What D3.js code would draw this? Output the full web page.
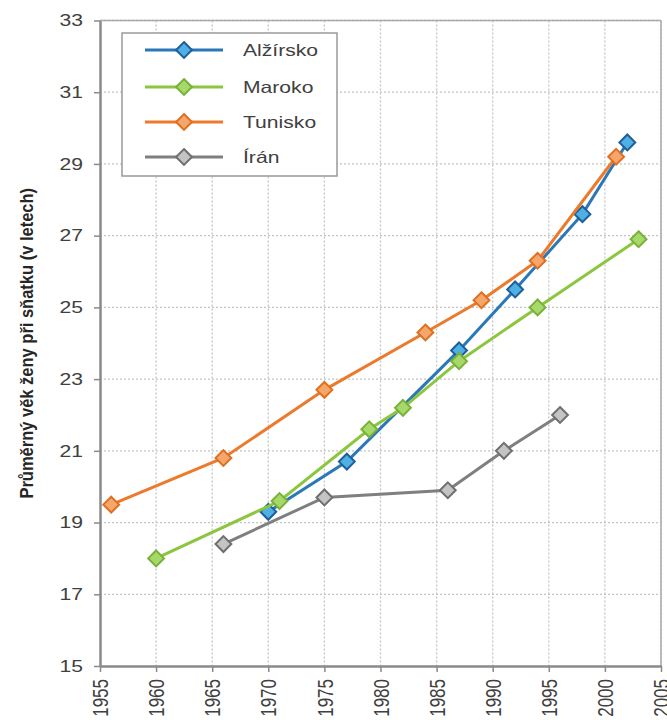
<!DOCTYPE html>
<html><head><meta charset="utf-8">
<script src="https://cdn.jsdelivr.net/npm/d3@7/dist/d3.min.js"></script>
<style>
html,body{margin:0;padding:0;background:#fff;}
svg{display:block;font-family:"Liberation Sans",Arial,sans-serif;}
</style></head>
<body>
<svg id="chart" width="667" height="720"></svg>
<script>
const seriesNames = ["Alžírsko", "Maroko", "Tunisko", "Írán"];
const algeriaYears = [1970, 1977, 1987, 1992, 1998, 2002];
const algeriaValues = [19.3, 20.7, 23.8, 25.5, 27.6, 29.6];
const moroccoYears = [1960, 1971, 1979, 1982, 1987, 1994, 2003];
const moroccoValues = [18.0, 19.6, 21.6, 22.2, 23.5, 25.0, 26.9];
const tunisiaYears = [1956, 1966, 1975, 1984, 1989, 1994, 2001];
const tunisiaValues = [19.5, 20.8, 22.7, 24.3, 25.2, 26.3, 29.2];
const iranYears = [1966, 1975, 1986, 1991, 1996];
const iranValues = [18.4, 19.7, 19.9, 21.0, 22.0];
const xTicks = [1955, 1960, 1965, 1970, 1975, 1980, 1985, 1990, 1995, 2000, 2005];
const yTicks = [15, 17, 19, 21, 23, 25, 27, 29, 31, 33];
const yTitle = "Průměrný věk ženy při sňatku (v letech)";

const styles = [
  {line:"#2a78b8", fill:"#4fb0e6", stroke:"#1f5f99"},
  {line:"#8cc63f", fill:"#a6d96a", stroke:"#79b13a"},
  {line:"#ec7a2c", fill:"#f5a66a", stroke:"#e07020"},
  {line:"#7f7f7f", fill:"#c4c4c4", stroke:"#6f6f6f"}
];
const data = [
  algeriaYears.map((y,i)=>({x:y, v:algeriaValues[i]})),
  moroccoYears.map((y,i)=>({x:y, v:moroccoValues[i]})),
  tunisiaYears.map((y,i)=>({x:y, v:tunisiaValues[i]})),
  iranYears.map((y,i)=>({x:y, v:iranValues[i]}))
];

const SX = 1.28; // horizontal stretch of glyphs
const svg = d3.select("#chart");
const L = 100, R = 661, T = 20.5, B = 666;
const x = d3.scaleLinear().domain([1955, 2005]).range([L, R]);
const y = d3.scaleLinear().domain([15, 33]).range([B, T]);

// grid
const grid = svg.append("g");
grid.selectAll(".vg").data(xTicks.slice(1)).enter().append("line")
  .attr("x1", d=>x(d)).attr("x2", d=>x(d)).attr("y1", T).attr("y2", B)
  .attr("stroke", "#c4c4c4").attr("stroke-width", 1.3).attr("stroke-dasharray", "2,2");
grid.selectAll(".hg").data(yTicks.slice(1)).enter().append("line")
  .attr("x1", L).attr("x2", R).attr("y1", d=>y(d)).attr("y2", d=>y(d))
  .attr("stroke", "#c4c4c4").attr("stroke-width", 1.3).attr("stroke-dasharray", "2,2");

// border top/right
svg.append("line").attr("x1", L).attr("x2", R).attr("y1", T).attr("y2", T).attr("stroke", "#aaa").attr("stroke-width", 1.5);
svg.append("line").attr("x1", R).attr("x2", R).attr("y1", T).attr("y2", B).attr("stroke", "#aaa").attr("stroke-width", 1.5);

// axes
const xAxis = d3.axisBottom(x).tickValues(xTicks).tickFormat(d3.format("d")).tickSize(6).tickSizeOuter(0);
const gx = svg.append("g").attr("transform", `translate(0,${B})`).call(xAxis);
gx.select(".domain").attr("stroke", "#8a8a8a").attr("stroke-width", 2.5);
gx.selectAll(".tick line").attr("stroke", "#8a8a8a").attr("stroke-width", 1.5);
gx.selectAll(".tick text")
  .attr("transform", `rotate(-90) scale(1,${SX})`)
  .attr("x", -13).attr("y", 0).attr("dy", "0.35em")
  .style("text-anchor", "end")
  .attr("fill", "#404040").style("font-size", "17px");

const yAxis = d3.axisLeft(y).tickValues(yTicks).tickSize(6).tickSizeOuter(0);
const gy = svg.append("g").attr("transform", `translate(${L},0)`).call(yAxis);
gy.select(".domain").attr("stroke", "#8a8a8a").attr("stroke-width", 2.5);
gy.selectAll(".tick line").attr("stroke", "#8a8a8a").attr("stroke-width", 1.5);
gy.selectAll(".tick text")
  .attr("transform", `scale(${SX},1)`)
  .attr("x", -17 / SX).attr("fill", "#404040").style("font-size", "16.5px");

svg.append("text")
  .attr("transform", `translate(26,${(T+B)/2}) rotate(-90) scale(1,1.15)`)
  .attr("text-anchor", "middle").attr("dy", "0.35em")
  .attr("fill", "#262626").style("font-size", "16.5px").style("font-weight", "bold")
  .text(yTitle);

// series
const line = d3.line().x(d=>x(d.x)).y(d=>y(d.v));
const diamond = d3.symbol().type(d3.symbolDiamond2).size(160);
data.forEach((s, i) => {
  const g = svg.append("g");
  g.append("path").datum(s).attr("d", line).attr("fill", "none")
    .attr("stroke", styles[i].line).attr("stroke-width", 3);
  g.selectAll("path.m").data(s).enter().append("path").attr("class","m")
    .attr("d", diamond)
    .attr("transform", d=>`translate(${x(d.x)},${y(d.v)})`)
    .attr("fill", styles[i].fill).attr("stroke", styles[i].stroke).attr("stroke-width", 2);
});

// legend
const lg = svg.append("g");
lg.append("rect").attr("x", 122).attr("y", 33).attr("width", 215).attr("height", 143)
  .attr("fill", "#fff").attr("stroke", "#9a9a9a").attr("stroke-width", 1.5);
const rows = [50, 87, 122, 157];
seriesNames.forEach((n, i) => {
  const ry = rows[i];
  lg.append("line").attr("x1", 145).attr("x2", 223).attr("y1", ry).attr("y2", ry)
    .attr("stroke", styles[i].line).attr("stroke-width", 3);
  lg.append("path").attr("d", diamond).attr("transform", `translate(184,${ry})`)
    .attr("fill", styles[i].fill).attr("stroke", styles[i].stroke).attr("stroke-width", 2);
  lg.append("text").attr("transform", `translate(243,${ry}) scale(${SX},1)`).attr("dy", "0.35em")
    .attr("fill", "#404040").style("font-size", "16.5px").text(n);
});
</script>
</body></html>
